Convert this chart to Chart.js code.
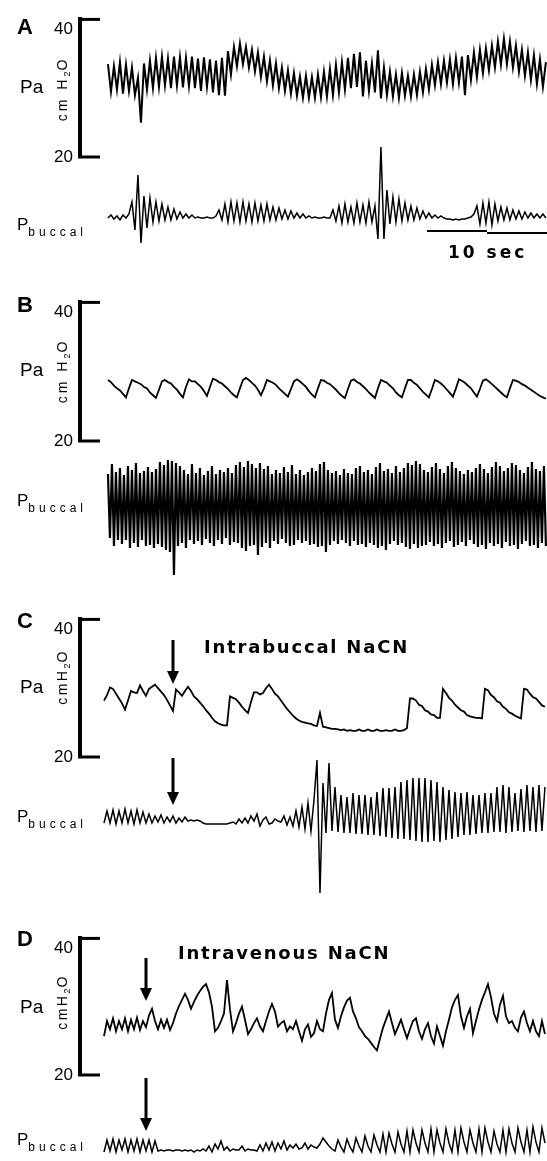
<!DOCTYPE html>
<html lang="en">
<head>
<meta charset="utf-8">
<title>Pa and Pbuccal recordings</title>
<script src="https://cdn.jsdelivr.net/npm/chart.js@4.4.1/dist/chart.umd.min.js"></script>
<style>
  body { margin: 0; background: #fff; }
  #fig { position: relative; width: 547px; height: 1161px; overflow: hidden;
         font-family: "Liberation Sans", Arial, sans-serif; color: #000; }
  #fig canvas { position: absolute; left: 0; }
  .lbl { position: absolute; white-space: nowrap; line-height: 1; transform: translateY(-50%); }
  .panel { font-weight: bold; font-size: 22px; }
  .pa { font-size: 19px; }
  .unit { font-size: 14px; letter-spacing: 3px; transform: translate(-50%, -50%) rotate(-90deg); }
  .unit.tight { letter-spacing: 2.5px; }
  .unit sub { font-size: 9px; vertical-align: -3px; letter-spacing: 1px; }
  .pb { font-size: 17px; }
  .pb sub { font-size: 12px; letter-spacing: 4px; vertical-align: -6px; }
  .note { font-family: "DejaVu Sans", sans-serif; font-weight: bold; font-size: 18px; letter-spacing: 1.8px; }
  .bar { font-family: "DejaVu Sans", sans-serif; font-weight: bold; font-size: 17px; letter-spacing: 3px; }
  .arrow { position: absolute; }
</style>
</head>
<body>
<div id="fig">
  <canvas id="aPa" width="547" height="189" style="top:-8px"></canvas>
  <canvas id="aPb" width="547" height="110" style="top:140px"></canvas>
  <canvas id="bPa" width="547" height="190" style="top:275px"></canvas>
  <canvas id="bPb" width="547" height="135" style="top:450px"></canvas>
  <canvas id="cPa" width="547" height="189" style="top:592px"></canvas>
  <canvas id="cPb" width="547" height="150" style="top:750px"></canvas>
  <canvas id="dPa" width="547" height="188" style="top:911px"></canvas>
  <canvas id="dPb" width="547" height="51" style="top:1110px"></canvas>

  <div class="lbl panel" style="left:17px;top:27px">A</div>
  <div class="lbl panel" style="left:17px;top:305px">B</div>
  <div class="lbl panel" style="left:17px;top:621px">C</div>
  <div class="lbl panel" style="left:17px;top:939px">D</div>

  <div class="lbl pa" style="left:20px;top:86px">Pa</div>
  <div class="lbl pa" style="left:20px;top:369px">Pa</div>
  <div class="lbl pa" style="left:20px;top:686px">Pa</div>
  <div class="lbl pa" style="left:20px;top:1006px">Pa</div>

  <div class="lbl unit" style="left:63px;top:89px">cm H<sub>2</sub>O</div>
  <div class="lbl unit" style="left:63px;top:371px">cm H<sub>2</sub>O</div>
  <div class="lbl unit tight" style="left:63px;top:677px">cmH<sub>2</sub>O</div>
  <div class="lbl unit tight" style="left:63px;top:1002px">cmH<sub>2</sub>O</div>

  <div class="lbl pb" style="left:17px;top:227px">P<sub>buccal</sub></div>
  <div class="lbl pb" style="left:17px;top:503px">P<sub>buccal</sub></div>
  <div class="lbl pb" style="left:17px;top:819px">P<sub>buccal</sub></div>
  <div class="lbl pb" style="left:17px;top:1142px">P<sub>buccal</sub></div>

  <div class="lbl bar" style="left:448px;top:252px">10 sec</div>
  <div class="lbl note" style="left:204px;top:647px">Intrabuccal NaCN</div>
  <div class="lbl note" style="left:178px;top:953px">Intravenous NaCN</div>

  <svg class="arrow" style="left:167px;top:640px" width="12" height="44"><rect x="4.5" y="0" width="3" height="32"/><path d="M0 31 H12 L6 44 Z"/></svg>
  <svg class="arrow" style="left:167px;top:758px" width="12" height="47"><rect x="4.5" y="0" width="3" height="35"/><path d="M0 34 H12 L6 47 Z"/></svg>
  <svg class="arrow" style="left:140px;top:958px" width="12" height="43"><rect x="4.5" y="0" width="3" height="31"/><path d="M0 30 H12 L6 43 Z"/></svg>
  <svg class="arrow" style="left:140px;top:1078px" width="12" height="53"><rect x="4.5" y="0" width="3" height="41"/><path d="M0 40 H12 L6 53 Z"/></svg>
</div>

<script>
// every trace is a run of evenly spaced samples (seconds)
const T_MAX = 38.92;
const STEP = 0.25;
const STEP_FAST = 1 / 6;
const START_AB = 2.33;
const START_CD = 2.0;

const PA_MIN = 20;
const PA_MAX = 40;
const PA_TICKS = [20, 40];
const BAR_SECONDS = 10;

// Pa, cmH2O
const aPa = [
  33.5, 29.5, 33.2, 29.8, 33.8, 29.2, 33.4, 29.6, 33.0, 29.0,
  31.5, 25.0, 33.6, 29.8, 34.0, 30.0, 34.4, 30.2, 34.6, 30.4,
  34.3, 30.0, 34.6, 30.4, 34.5, 30.1, 34.4, 30.3, 34.6, 30.0,
  34.3, 29.6, 34.5, 30.2, 34.2, 29.4, 34.0, 29.0, 34.4, 28.9,
  35.4, 32.0, 36.0, 33.2, 36.5, 33.5, 36.0, 33.0, 35.6, 32.4,
  35.2, 31.6, 34.6, 31.0, 34.0, 30.4, 33.6, 30.0, 33.0, 29.6,
  32.6, 29.2, 32.2, 28.9, 31.7, 28.6, 31.8, 28.6, 31.6, 28.6,
  32.0, 28.7, 32.4, 28.8, 32.8, 29.0, 33.4, 29.4, 33.8, 29.8,
  34.4, 30.0, 35.0, 30.2, 35.2, 28.8, 34.0, 29.6, 33.6, 29.4,
  35.5, 28.5, 33.0, 29.0, 32.4, 28.8, 32.0, 28.6, 32.2, 28.9,
  31.8, 28.8, 32.0, 29.0, 32.4, 29.4, 32.8, 29.8, 33.4, 30.4,
  33.8, 30.6, 34.0, 30.8, 34.2, 30.6, 34.4, 30.8, 34.6, 29.0,
  34.8, 31.2, 35.2, 31.6, 35.6, 32.2, 35.8, 32.6, 36.2, 33.0,
  36.8, 33.4, 37.2, 33.5, 36.8, 33.0, 36.2, 32.4, 35.6, 31.8,
  35.2, 31.2, 34.8, 30.6, 34.2, 30.2, 33.8
];

const bPa = [
  28.8, 28.5, 28.0, 27.6, 27.3, 26.8, 26.3, 27.6, 28.8, 28.6,
  28.4, 28.2, 27.8, 27.6, 27.0, 26.6, 26.2, 27.4, 28.6, 28.8,
  28.5, 28.3, 27.8, 27.4, 26.8, 26.3, 27.8, 28.9, 28.6, 28.6,
  28.2, 27.8, 27.2, 26.5, 27.8, 29.0, 28.8, 28.5, 28.3, 27.9,
  27.5, 27.0, 26.6, 26.3, 27.6, 28.8, 29.1, 28.8, 28.4, 28.0,
  27.4, 26.6, 27.6, 28.8, 28.6, 28.4, 28.1, 27.6, 27.2, 26.8,
  26.4, 27.5, 28.6, 28.9, 28.6, 28.2, 27.8, 27.2, 26.7, 26.3,
  27.6, 28.8, 28.7, 28.4, 28.2, 27.8, 27.4, 26.9, 26.5, 26.2,
  27.5, 28.7, 28.9, 28.5, 28.3, 27.9, 27.5, 27.0, 26.6, 26.2,
  27.6, 28.8, 28.6, 28.4, 28.0, 27.6, 27.0, 26.6, 26.3, 27.6,
  28.8, 28.8, 28.4, 28.1, 27.6, 27.1, 26.7, 26.3, 27.5, 28.8,
  28.6, 28.3, 27.9, 27.4, 26.9, 26.4, 27.6, 28.9, 28.7, 28.4,
  28.0, 27.6, 27.0, 26.4, 27.5, 28.7, 28.9, 28.6, 28.2, 27.8,
  27.4, 27.0, 26.6, 26.3, 27.6, 28.8, 28.7, 28.5, 28.2, 28.0,
  27.7, 27.4, 27.1, 26.8, 26.5, 26.3, 26.1
];

const cPa = [
  28.2, 29.0, 30.1, 29.9, 29.2, 28.5, 27.8, 26.9, 28.2, 29.6,
  29.4, 29.3, 30.4, 29.6, 28.9, 29.9, 30.2, 30.5, 30.0, 29.5,
  29.0, 28.3, 27.5, 26.7, 29.8, 29.4, 28.9, 29.6, 30.2, 29.6,
  28.8, 28.4, 27.9, 27.4, 26.8, 26.3, 25.7, 25.2, 24.9, 24.7,
  24.6, 24.6, 28.8, 28.6, 28.4, 27.9, 27.3, 26.8, 26.4, 28.0,
  29.4, 29.4, 29.1, 29.3, 30.0, 30.5, 29.9, 29.2, 28.8, 28.2,
  27.6, 27.0, 26.5, 26.0, 25.6, 25.3, 25.1, 25.0, 24.9, 24.8,
  24.6, 24.5, 26.4, 24.4, 24.3, 24.2, 24.1, 24.1, 24.0, 23.9,
  24.0, 23.8, 23.9, 23.8, 23.8, 24.0, 23.8, 23.8, 24.0, 23.8,
  23.8, 24.0, 23.8, 23.8, 23.9, 23.8, 23.8, 24.0, 23.8, 23.8,
  23.9, 24.2, 28.5, 28.5, 28.2, 27.6, 27.4, 26.8, 26.6, 26.2,
  26.1, 25.7, 25.7, 29.9, 29.3, 28.6, 28.2, 27.6, 27.2, 26.8,
  26.6, 26.1, 25.9, 25.8, 25.7, 25.7, 25.6, 29.9, 29.7, 29.0,
  28.7, 28.1, 27.9, 27.3, 27.0, 26.5, 26.3, 26.0, 25.8, 25.6,
  29.9, 29.8, 29.2, 28.7, 28.5, 28.0, 27.5, 27.3
];

const dPa = [
  25.7, 27.9, 26.7, 28.3, 26.4, 27.9, 26.7, 28.3, 26.4, 28.1,
  26.7, 28.4, 26.6, 27.9, 27.0, 28.7, 29.7, 27.9, 26.7, 28.1,
  26.9, 28.1, 26.6, 27.6, 29.0, 30.1, 31.0, 31.9, 31.0, 29.7,
  30.7, 31.6, 32.3, 32.9, 33.3, 32.1, 30.0, 26.4, 26.9, 27.9,
  29.0, 33.9, 29.6, 26.4, 27.6, 29.0, 30.0, 28.1, 26.0, 26.7,
  27.6, 28.3, 27.1, 26.4, 27.9, 29.3, 30.4, 29.3, 27.1, 27.6,
  27.9, 26.4, 27.1, 26.7, 27.9, 26.4, 25.0, 26.7, 27.4, 25.6,
  26.1, 27.9, 26.7, 26.4, 29.0, 31.0, 32.0, 28.1, 26.9, 28.6,
  29.9, 30.9, 31.3, 29.3, 28.3, 27.0, 26.4, 25.7, 25.3, 24.7,
  24.1, 23.6, 25.3, 26.9, 28.1, 29.3, 27.6, 26.0, 27.0, 28.1,
  26.7, 25.4, 26.7, 27.9, 28.3, 26.4, 25.3, 26.7, 27.6, 25.7,
  24.6, 27.1, 25.7, 24.3, 26.4, 28.1, 29.9, 31.0, 31.7, 28.6,
  26.9, 28.6, 29.7, 26.1, 27.9, 29.6, 31.0, 32.1, 33.3, 31.4,
  29.0, 27.9, 30.3, 31.6, 28.6, 27.6, 27.9, 26.9, 26.4, 28.4,
  29.3, 27.6, 26.4, 27.9, 26.4, 25.7, 27.9, 26.0
];

// Pbuccal, arbitrary units above each trace's resting level
const aPb = [
  0, 3, -1, 2, -2, 3, 0, 4, 16, -12,
  43, -25, 22, -10, 20, -4, 16, -3, 14, -2,
  11, -2, 9, -1, 6, 0, 4, 0, 3, 0,
  1, 0, 0, 1, 0, 0, 2, 8, -2, 14,
  -4, 16, -3, 15, -4, 16, -3, 14, -4, 15,
  -3, 13, -3, 14, -2, 11, -2, 10, -1, 8,
  -1, 7, 0, 5, 0, 4, 0, 2, 0, 1,
  0, 0, 1, 0, 0, 8, -3, 12, -5, 14,
  -4, 11, -5, 15, -4, 13, -5, 16, -4, 12,
  -21, 71, -21, 28, -6, 21, -4, 19, -3, 15,
  -2, 12, -2, 10, -1, 7, 0, 5, 0, 3,
  0, 2, 0, -1, -1, -2, -1, -2, -1, -1,
  0, 1, 4, 12, -6, 15, -5, 16, -7, 14,
  -3, 11, -2, 10, -2, 8, -1, 7, -1, 6,
  0, 5, 0, 4, 0, 4, 0
];

const bPb = [
  36, -28, 46, -36, 38, -30, 42, -34, 35, -30,
  44, -38, 40, -33, 47, -37, 37, -30, 39, -36,
  43, -35, 38, -38, 41, -34, 48, -37, 45, -40,
  50, -42, 49, -65, 47, -36, 44, -33, 40, -38,
  36, -30, 46, -34, 37, -31, 42, -35, 35, -29,
  39, -33, 44, -36, 36, -30, 40, -34, 38, -28,
  42, -35, 37, -32, 45, -33, 48, -38, 43, -41,
  49, -36, 46, -35, 42, -45, 47, -37, 41, -33,
  44, -38, 36, -31, 40, -34, 37, -29, 43, -33,
  38, -36, 45, -35, 36, -30, 40, -33, 35, -31,
  38, -35, 42, -34, 39, -37, 46, -36, 48, -42,
  40, -35, 37, -31, 39, -34, 35, -30, 41, -33,
  37, -36, 36, -31, 42, -35, 44, -34, 38, -37,
  40, -33, 36, -35, 43, -38, 47, -36, 39, -40,
  41, -34, 37, -31, 44, -35, 38, -33, 42, -37,
  47, -39, 45, -34, 49, -38, 46, -36, 40, -35,
  38, -32, 43, -36, 47, -34, 41, -38, 37, -33,
  44, -31, 48, -37, 42, -35, 39, -32, 36, -36,
  40, -30, 38, -34, 42, -37, 46, -35, 41, -39,
  37, -33, 43, -36, 48, -34, 44, -38, 39, -32,
  42, -36, 47, -35, 45, -39, 40, -34, 37, -31,
  43, -36, 48, -35, 41, -38, 39, -33, 44, -36
];

const cPb = [
  0, 12, 0, 13, -1, 12, 0, 14, 0, 12,
  -1, 13, 0, 11, 0, 9, 0, 7, 1, 8,
  0, 6, 1, 7, 0, 5, 1, 6, 2, 3,
  2, 3, 2, 0, -1, -1, -1, -1, -1, -1,
  -1, -1, 0, 1, -1, 4, 0, 5, 0, 7,
  2, 9, -3, 3, 6, -1, 0, 4, 2, 1,
  7, -2, 6, -3, 12, -4, 16, -6, 20, -8,
  23, 63, -70, 40, -10, 60, -8, 36, -9, 28,
  -10, 26, -10, 30, -11, 28, -11, 28, -12, 26,
  -12, 31, -13, 35, -14, 35, -15, 36, -16, 41,
  -16, 43, -17, 45, -18, 45, -19, 45, -19, 43,
  -18, 41, -19, 36, -17, 33, -16, 31, -14, 30,
  -12, 31, -12, 28, -11, 28, -10, 30, -10, 30,
  -9, 36, -9, 38, -10, 36, -9, 30, -8, 34,
  -9, 38, -8, 36, -9, 38, -8, 36
];

const dPb = [
  0, 12, 1, 13, 0, 12, 2, 13, 0, 12,
  1, 13, 0, 12, 1, 12, 0, 11, 1, 2,
  1, 2, 2, 1, 2, 2, 1, 2, 1, 2,
  0, 2, 1, 3, 1, 6, 0, 8, 3, 11,
  2, 5, 1, 3, 2, 2, 6, 1, 3, 2,
  2, 1, 7, 1, 9, 2, 10, 1, 9, 3,
  11, 2, 7, 4, 8, 3, 4, 9, 3, 7,
  5, 4, 8, 14, 10, 6, 3, 1, 12, 5,
  0, 13, 5, 0, 14, 6, 0, 16, 6, 0,
  17, 7, 0, 18, 0, 19, 8, 0, 20, 8,
  0, 21, 0, 22, 9, 0, 22, 9, 0, 23,
  0, 22, 9, 0, 23, 9, 0, 22, 0, 24,
  10, 0, 22, 9, 0, 23, 0, 24, 10, 0,
  21, 8, 0, 22, 0, 23, 9, 0, 24, 10,
  0, 22, 0, 25, 10, 0, 24, 9
];

const tickFont = { family: '"Liberation Sans", Arial, sans-serif', size: 17 };

function points(values, t0, dt) {
  return values.map((v, i) => ({ x: t0 + i * dt, y: v }));
}

// short horizontal ends of the Pa bracket
const bracketCaps = {
  id: 'bracketCaps',
  afterDraw(chart) {
    const { ctx, scales: { y } } = chart;
    ctx.save();
    ctx.fillStyle = '#000';
    [y.max, y.min].forEach(v => {
      const py = y.getPixelForValue(v);
      ctx.fillRect(y.right - 2, py - 1.5, 22, 3);
    });
    ctx.restore();
  }
};

const scaleBar = {
  id: 'scaleBar',
  afterDatasetsDraw(chart, args, opts) {
    const { ctx, scales: { x } } = chart;
    const start = T_MAX - BAR_SECONDS;
    const x0 = x.getPixelForValue(start);
    const xm = x.getPixelForValue(start + BAR_SECONDS / 2);
    const x1 = x.getPixelForValue(T_MAX);
    ctx.save();
    ctx.fillStyle = '#000';
    ctx.fillRect(x0, opts.y, xm - x0, 2);
    ctx.fillRect(xm, opts.y + 2, x1 - xm, 2);
    ctx.restore();
  }
};

function paChart(id, values, t0, width) {
  return new Chart(document.getElementById(id), {
    type: 'line',
    data: {
      datasets: [{
        data: points(values, t0, STEP),
        borderColor: '#000',
        borderWidth: width || 1.8,
        pointRadius: 0,
        tension: 0
      }]
    },
    options: {
      responsive: false,
      animation: false,
      events: [],
      devicePixelRatio: 1,
      layout: { padding: { top: 24, bottom: 24, left: 0, right: 0 } },
      plugins: { legend: { display: false }, tooltip: { enabled: false } },
      scales: {
        x: { type: 'linear', display: false, min: 0, max: T_MAX },
        y: {
          type: 'linear', position: 'left', min: PA_MIN, max: PA_MAX,
          afterBuildTicks: s => { s.ticks = PA_TICKS.map(v => ({ value: v })); },
          afterFit: s => { s.width = 80; },
          grid: { display: false, drawTicks: false },
          border: { display: true, color: '#000', width: 4 },
          ticks: {
            padding: 7, color: '#000', font: tickFont,
            // the top label sits just under its bracket end, as in the figure
            callback: v => (v === PA_MAX ? ['', String(v)] : String(v))
          }
        }
      }
    },
    plugins: [bracketCaps]
  });
}

function pbChart(id, values, t0, dt, lo, hi, width, extraPlugins, pluginOpts) {
  return new Chart(document.getElementById(id), {
    type: 'line',
    data: {
      datasets: [{
        data: points(values, t0, dt),
        borderColor: '#000',
        borderWidth: width,
        pointRadius: 0,
        tension: 0
      }]
    },
    options: {
      responsive: false,
      animation: false,
      events: [],
      devicePixelRatio: 1,
      layout: { padding: { left: 80, right: 0, top: 0, bottom: 0 } },
      plugins: Object.assign({ legend: { display: false }, tooltip: { enabled: false } }, pluginOpts || {}),
      scales: {
        x: { type: 'linear', display: false, min: 0, max: T_MAX },
        y: { type: 'linear', display: false, min: lo, max: hi }
      }
    },
    plugins: extraPlugins || []
  });
}

paChart('aPa', aPa, START_AB, 2);
paChart('bPa', bPa, START_AB);
paChart('cPa', cPa, START_CD);
paChart('dPa', dPa, START_CD);

pbChart('aPb', aPb, START_AB, STEP, -32, 78, 1.5, [scaleBar], { scaleBar: { y: 90 } });
pbChart('bPb', bPb, START_AB, STEP_FAST, -75, 60, 2.2);
pbChart('cPb', cPb, START_CD, STEP, -77, 73, 1.5);
pbChart('dPb', dPb, START_CD, STEP, -9, 42, 1.5);
</script>
</body>
</html>
